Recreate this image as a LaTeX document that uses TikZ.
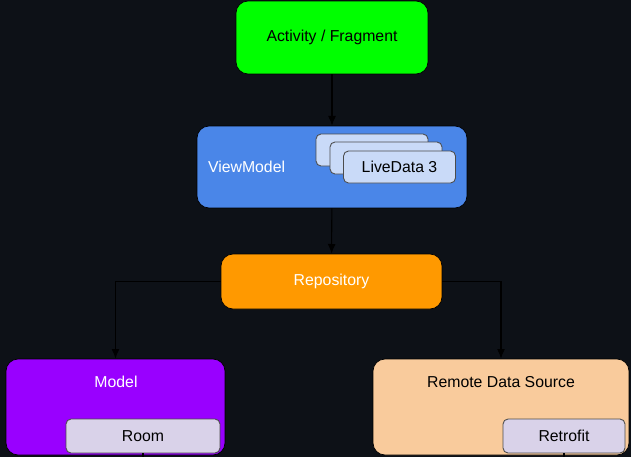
\documentclass[tikz,border=0pt]{standalone}
\usepackage{fontspec}
\setmainfont{Liberation Sans}
\usepackage{tikz}
\usetikzlibrary{arrows,arrows.meta,shapes,scopes}
\usetikzlibrary{positioning}
\definecolor{bgdark}{HTML}{0D1117}
\definecolor{actgreen}{HTML}{00FF00}
\definecolor{vmblue}{HTML}{4A86E8}
\definecolor{ldblue}{HTML}{C9DAF8}
\definecolor{repoorange}{HTML}{FF9900}
\definecolor{modelpurple}{HTML}{9900FF}
\definecolor{remotepeach}{HTML}{F9CB9C}
\definecolor{liblav}{HTML}{D9D2E9}
\tikzstyle{layer}=[draw=black,line width=0.4pt,rounded corners=0.24cm,font=\fontsize{9}{11}\selectfont,inner sep=0]
\tikzstyle{part}=[draw=black!70,line width=0.5pt,rounded corners=0.1cm,font=\fontsize{9}{11}\selectfont,inner sep=0]
\tikzstyle{ld}=[part,fill=ldblue,minimum width=2.24cm,minimum height=0.64cm]
\tikzstyle{lib}=[part,fill=liblav,minimum height=0.68cm]
\tikzstyle{lbl}=[font=\fontsize{9}{11}\selectfont,inner sep=0]
\tikzstyle{dep}=[-{Latex[length=5.5pt,width=4.5pt]},draw=black,line width=0.6pt]

\begin{document}
\begin{tikzpicture}[x=0.02cm,y=-0.02cm]
\fill[bgdark] (0,0) rectangle (631,457);
\useasboundingbox (0,0) rectangle (631,457);

\node[layer,fill=actgreen,minimum width=3.84cm,minimum height=1.46cm] (act) at (332,37.5) {Activity / Fragment};
\node[layer,fill=vmblue,minimum width=5.4cm,minimum height=1.64cm] (vm) at (332,167) {};
\node[lbl,text=white,right=0.22cm of vm.west] (vmtxt) {ViewModel};
\node[ld] (ld1) at (372,150) {};
\node[ld] (ld2) at (386,158) {};
\node[ld] (ld3) at (399.5,167) {LiveData 3};

\node[layer,fill=repoorange,text=white,minimum width=4.42cm,minimum height=1.1cm] (repo) at (331.5,281.5) {Repository};

\node[layer,fill=modelpurple,minimum width=4.38cm,minimum height=1.92cm] (model) at (115.5,407) {};
\node[lbl,text=white] (modeltxt) at (116,382) {Model};
\node[lib,minimum width=3.08cm] (room) at (143,436) {Room};

\node[layer,fill=remotepeach,minimum width=5.12cm,minimum height=1.92cm] (remote) at (501,407) {};
\node[lbl] (remotetxt) at (501,382) {Remote Data Source};
\node[lib,minimum width=2.44cm] (retro) at (564,436) {Retrofit};

\coordinate (roomout) at (143,457);
\coordinate (retroout) at (564,457);

\path[dep]
(act) edge (vm)
(vm) edge (repo)
;
\draw[dep] (repo.west) -| (model.north);
\draw[dep] (repo.east) -| (remote.north);
\draw[black,line width=0.6pt] (room.south) -- (roomout);
\draw[black,line width=0.6pt] (retro.south) -- (retroout);
\end{tikzpicture}
\end{document}
